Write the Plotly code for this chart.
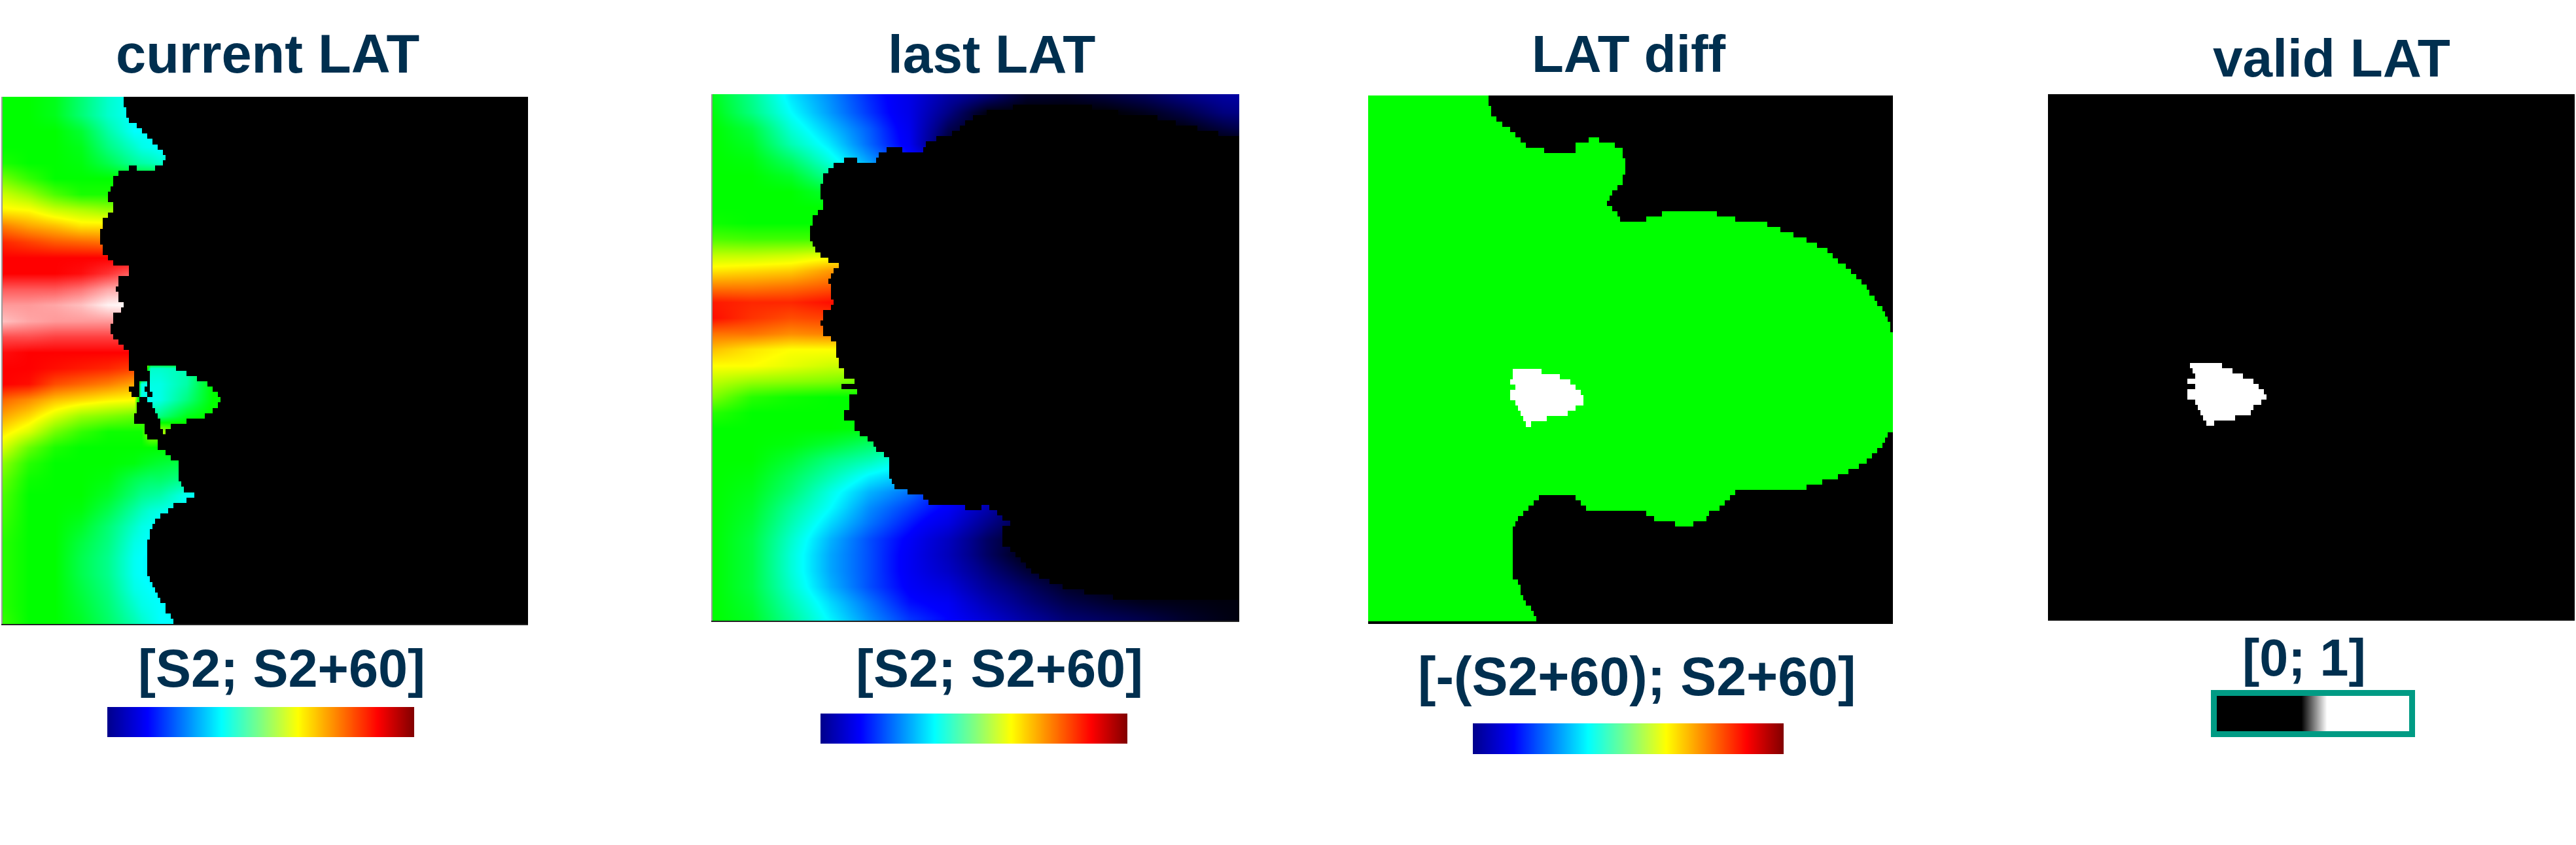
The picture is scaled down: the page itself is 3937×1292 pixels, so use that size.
import plotly.graph_objects as go

W, H = 3937, 1292
NAVY = "#002F4F"
TITLES = ["current LAT", "last LAT", "LAT diff", "valid LAT"]
RANGES = ["[S2; S2+60]", "[S2; S2+60]", "[-(S2+60); S2+60]", "[0; 1]"]

# Colour levels used by the two LAT maps: 0 black ... 7 white
LEVEL_COLORS = ["#000000", "#00008B", "#0000FF", "#00FFFF", "#00FF00", "#FFFF00", "#FF0000", "#FFFFFF"]

# current LAT: level read at every third row (rows 0..99) and these columns (0..100)
CUR_COLS = [0, 5, 10, 15, 20, 25, 26.4, 28.1, 30, 35, 40, 45]
CUR_ROWS = list(range(0, 100, 3))
CUR_LEVELS = [
    [4, 4, 3.9, 3.55, 3.2, 3, 3, 3, 3, 3, 3, 3],
    [4, 4, 3.9, 3.55, 3.2, 3, 3, 3, 3, 3, 3, 3],
    [4, 4, 4, 3.8, 3.35, 3, 3, 3, 3, 3, 3, 3],
    [4, 4, 4, 3.9, 3.5, 3.2, 3.1, 3.05, 3, 3, 3, 3],
    [4.1, 4, 4, 3.95, 3.7, 3.4, 3.35, 3.3, 3.2, 3.2, 3.2, 3.2],
    [4.45, 4.2, 4, 4, 4, 4, 4, 4, 4, 4, 4, 4],
    [4.8, 4.6, 4.3, 4.1, 4.1, 4.1, 4.1, 4.1, 4.1, 4.1, 4.1, 4.1],
    [5.05, 5, 4.8, 4.7, 4.6, 4.6, 4.6, 4.6, 4.6, 4.6, 4.6, 4.6],
    [5.5, 5.35, 5.25, 5.1, 5.1, 5.1, 5.1, 5.1, 5.1, 5.1, 5.1, 5.1],
    [5.85, 5.75, 5.65, 5.6, 5.55, 5.55, 5.55, 5.55, 5.55, 5.55, 5.55, 5.55],
    [6, 6, 6, 6, 6, 6, 6, 6, 6, 6, 6, 6],
    [6, 6, 6, 6.05, 6.2, 6.4, 6.4, 6.4, 6.4, 6.4, 6.4, 6.4],
    [6.35, 6.35, 6.35, 6.45, 6.65, 6.7, 6.7, 6.7, 6.7, 6.7, 6.7, 6.7],
    [6.6, 6.6, 6.65, 6.75, 6.95, 7, 7, 7, 7, 7, 7, 7],
    [6.75, 6.65, 6.6, 6.6, 6.6, 6.6, 6.6, 6.6, 6.6, 6.6, 6.6, 6.6],
    [6.3, 6.3, 6.25, 6.25, 6.25, 6.25, 6.25, 6.25, 6.25, 6.25, 6.25, 6.25],
    [6.05, 6, 6, 6, 6, 6, 6, 6, 6, 6, 6, 6],
    [6, 6, 5.95, 5.9, 5.85, 5.75, 5.75, 3.2, 3.2, 3.3, 3.9, 4],
    [6, 5.95, 5.7, 5.6, 5.5, 5.35, 3.1, 3.1, 3.1, 3.35, 4, 4],
    [5.6, 5.45, 5.25, 5.15, 5.05, 5, 3.1, 3.05, 3.1, 3.5, 4, 4.05],
    [5.35, 5.15, 4.85, 4.6, 4.5, 4.4, 4.4, 3.4, 3.5, 3.9, 4.05, 4.05],
    [5.1, 4.85, 4.45, 4.2, 4.05, 4.05, 4.05, 4.7, 4.7, 4.2, 4.1, 4],
    [4.85, 4.4, 4.1, 4, 4, 4, 4, 4, 4, 4, 4, 4],
    [4.55, 4.15, 4, 4, 4, 3.95, 3.9, 3.85, 3.8, 3.7, 3.6, 3.6],
    [4.4, 4.05, 4, 4, 3.95, 3.7, 3.65, 3.6, 3.6, 3.45, 3.4, 3.4],
    [4.3, 4, 4, 4, 3.85, 3.55, 3.45, 3.4, 3.35, 3.05, 3, 3],
    [4.25, 4, 4, 3.95, 3.7, 3.35, 3.25, 3.15, 3.1, 3, 3, 3],
    [4.2, 4, 4, 3.85, 3.55, 3.2, 3.1, 3.05, 3, 3, 3, 3],
    [4.15, 4, 4, 3.75, 3.5, 3.1, 3.05, 3, 2.95, 2.95, 2.95, 2.95],
    [4.15, 4, 4, 3.7, 3.45, 3.05, 3, 2.95, 2.9, 2.9, 2.9, 2.9],
    [4.15, 4, 4, 3.7, 3.45, 3.05, 3, 2.95, 2.95, 2.95, 2.95, 2.95],
    [4.15, 4, 4, 3.75, 3.5, 3.1, 3.05, 3, 3, 3, 3, 3],
    [4.15, 4, 4, 3.8, 3.55, 3.2, 3.1, 3.05, 3, 3, 3, 3],
    [4.2, 4, 4, 3.85, 3.6, 3.3, 3.2, 3.1, 3, 3, 3, 3],
]

# current LAT: coloured spans per row (start, end, start, end ...), the rest is black
CUR_SPANS = [
    [0, 23], [0, 23], [0, 23.4], [0, 23.5], [0, 24], [0, 25.5], [0, 26.5], [0, 27.5], [0, 28.5], [0, 29.5],
    [0, 30.5], [0, 31.2], [0, 30.5], [0, 24, 25.5, 29], [0, 22], [0, 21], [0, 21], [0, 20.4], [0, 20], [0, 20],
    [0, 21], [0, 21], [0, 20], [0, 19], [0, 19], [0, 18.6], [0, 18.5], [0, 18.5], [0, 19], [0, 19],
    [0, 20], [0, 21], [0, 24], [0, 24], [0, 22], [0, 22], [0, 21.5], [0, 22], [0, 22], [0, 22.8],
    [0, 22.5], [0, 21], [0, 21], [0, 20.5], [0, 20.5], [0, 21], [0, 22], [0, 23], [0, 24], [0, 24],
    [0, 24], [0, 24, 27.5, 33], [0, 25, 28, 35], [0, 25.2, 28, 37], [0, 25.2, 26, 27.5, 28, 39], [0, 24, 26, 27, 28, 40],
    [0, 24.5, 26, 27.5, 28.5, 41], [0, 26, 27.5, 41.5], [0, 25.6, 28.5, 41], [0, 25.6, 29, 40],
    [0, 25, 29.4, 38.7], [0, 25, 29.8, 35], [0, 27, 30, 32], [0, 27, 30.5, 31], [0, 27.7], [0, 29.4], [0, 29.6], [0, 31], [0, 32], [0, 33.3],
    [0, 33.5], [0, 33.5], [0, 33.6], [0, 34], [0, 34.5], [0, 36.6], [0, 34.8], [0, 32.7], [0, 31.5], [0, 30.2],
    [0, 29], [0, 28.5], [0, 28.1], [0, 27.9], [0, 27.4], [0, 27.4], [0, 27.4], [0, 27.4], [0, 27.4], [0, 27.4],
    [0, 27.7], [0, 28], [0, 28.5], [0, 29], [0, 29.6], [0, 30], [0, 31], [0, 31.2], [0, 32], [0, 32.5],
]

# last LAT: level read at every third row and these columns
LAST_COLS = [0, 7.45, 14.9, 22.35, 29.8, 37.25, 44.7, 52.2, 59.6, 67.1, 74.5, 82, 89.4, 96.9, 100]
LAST_ROWS = list(range(0, 100, 3))
LAST_LEVELS = [
    [3.9, 3.45, 2.9, 2.55, 2.15, 1.8, 1.2, 0.8, 0.3, 0.25, 0.4, 0.6, 0.9, 1.15, 1.2],
    [3.95, 3.5, 3, 2.6, 2.2, 1.8, 0.95, 0.1, 0, 0, 0, 0.2, 0.5, 0.9, 0.95],
    [4, 3.75, 3.15, 2.75, 2.35, 1.85, 0.6, 0, 0, 0, 0, 0, 0.1, 0.45, 0.55],
    [4, 3.85, 3.3, 2.9, 2.4, 1.9, 0.3, 0, 0, 0, 0, 0, 0, 0, 0],
    [4, 3.95, 3.6, 3.1, 2.6, 2.1, 1.5, 0, 0, 0, 0, 0, 0, 0, 0],
    [4, 4, 3.85, 3.4, 3.1, 0, 0, 0, 0, 0, 0, 0, 0, 0, 0],
    [4, 4, 4, 3.8, 3.6, 0, 0, 0, 0, 0, 0, 0, 0, 0, 0],
    [4, 4, 4, 4, 4, 0, 0, 0, 0, 0, 0, 0, 0, 0, 0],
    [4.05, 4, 4, 4, 4, 0, 0, 0, 0, 0, 0, 0, 0, 0, 0],
    [4.3, 4.25, 4.25, 4.25, 4.25, 0, 0, 0, 0, 0, 0, 0, 0, 0, 0],
    [4.75, 4.75, 4.8, 4.9, 5, 0, 0, 0, 0, 0, 0, 0, 0, 0, 0],
    [5.1, 5.15, 5.2, 5.4, 5.5, 0, 0, 0, 0, 0, 0, 0, 0, 0, 0],
    [5.5, 5.5, 5.55, 5.65, 5.7, 0, 0, 0, 0, 0, 0, 0, 0, 0, 0],
    [5.9, 5.85, 5.85, 5.95, 6, 0, 0, 0, 0, 0, 0, 0, 0, 0, 0],
    [5.95, 5.8, 5.7, 5.75, 5.8, 0, 0, 0, 0, 0, 0, 0, 0, 0, 0],
    [5.55, 5.55, 5.45, 5.5, 5.5, 0, 0, 0, 0, 0, 0, 0, 0, 0, 0],
    [5.25, 5.1, 5, 5, 5, 0, 0, 0, 0, 0, 0, 0, 0, 0, 0],
    [5, 5, 4.9, 4.8, 4.8, 0, 0, 0, 0, 0, 0, 0, 0, 0, 0],
    [4.75, 4.6, 4.55, 4.5, 4.4, 0, 0, 0, 0, 0, 0, 0, 0, 0, 0],
    [4.5, 4.15, 4.05, 4, 4, 0, 0, 0, 0, 0, 0, 0, 0, 0, 0],
    [4.15, 4, 4, 4, 4, 0, 0, 0, 0, 0, 0, 0, 0, 0, 0],
    [4, 4, 4, 4, 3.95, 3.9, 0, 0, 0, 0, 0, 0, 0, 0, 0],
    [4, 4, 3.95, 3.8, 3.6, 3.4, 0, 0, 0, 0, 0, 0, 0, 0, 0],
    [4, 4, 3.8, 3.5, 3.3, 3, 0, 0, 0, 0, 0, 0, 0, 0, 0],
    [4, 3.95, 3.65, 3.3, 2.95, 2.75, 2.4, 0, 0, 0, 0, 0, 0, 0, 0],
    [4, 3.9, 3.55, 3.1, 2.7, 2.45, 2, 1.6, 0, 0, 0, 0, 0, 0, 0],
    [4, 3.85, 3.4, 3, 2.55, 2.25, 1.95, 1.3, 0.4, 0, 0, 0, 0, 0, 0],
    [4, 3.8, 3.3, 2.85, 2.45, 2.1, 1.75, 1, 0.4, 0, 0, 0, 0, 0, 0],
    [4, 3.75, 3.2, 2.7, 2.3, 1.95, 1.45, 0.7, 0.2, 0, 0, 0, 0, 0, 0],
    [4, 3.75, 3.15, 2.65, 2.3, 1.9, 1.4, 0.7, 0.1, 0, 0, 0, 0, 0, 0],
    [4, 3.75, 3.15, 2.65, 2.3, 1.9, 1.5, 0.9, 0.4, 0.05, 0, 0, 0, 0, 0],
    [4, 3.75, 3.2, 2.7, 2.3, 1.95, 1.7, 1.1, 0.7, 0.3, 0.1, 0, 0, 0, 0],
    [4, 3.8, 3.3, 2.85, 2.45, 2.05, 1.9, 1.35, 0.9, 0.55, 0.35, 0.2, 0.15, 0.1, 0.1],
    [4, 3.85, 3.4, 2.95, 2.55, 2.2, 2, 1.6, 1.15, 0.8, 0.65, 0.5, 0.3, 0.15, 0.1],
]

# last LAT: black spans per row, starting at row 2
LAST_FIRST_ROW = 2
LAST_BLACK = [
    [57, 72], [52, 77], [49.5, 84.5], [48, 88], [47, 92], [45.7, 96],
    [42.4, 100], [40.3, 100], [33.2, 35.9, 39.9, 100], [31.6, 100], [24.8, 27.5, 30.8, 100],
    [22.9, 100], [21.9, 100], [21, 100], [20.8, 100], [20.3, 100], [20.3, 100], [20.3, 100],
    [20.8, 100], [20.8, 100], [20, 100], [19.2, 100], [19.1, 100], [18.6, 100], [18.4, 100], [18.6, 100],
    [19.2, 100], [19.4, 100], [20.4, 100], [21.8, 100], [23.9, 100], [23.1, 100], [22.3, 100], [22, 100],
    [22.3, 100], [22.3, 100], [22.5, 100], [22.9, 100], [22.5, 100], [21, 100], [21, 100], [20.5, 100],
    [21, 100], [21, 100], [22.3, 100], [23.3, 100], [23.7, 100], [23.7, 100], [23.9, 100], [23.9, 100],
    [25.2, 100], [25.2, 100], [27, 100], [24.5, 27.5, 27.5, 100], [27.7, 100], [25.8, 100], [25.8, 100],
    [25.8, 100], [25.2, 100], [25.2, 100], [27, 100], [27, 100], [27.9, 100], [29.5, 100], [30.6, 100],
    [31, 100], [32.4, 100], [33.6, 100], [33.6, 100], [33.6, 100], [33.7, 100], [34.2, 100], [34.5, 100],
    [36.8, 100], [39.9, 100], [41.1, 100],
    [48, 51, 52.5, 100], [53.8, 100], [54.8, 100], [56.4, 100], [55, 100], [55, 100], [55, 100], [55, 100],
    [56.4, 100], [57.4, 100], [58.5, 100], [59.5, 100], [60.7, 100], [61.8, 100], [63.8, 100], [66.3, 100],
    [70.4, 100], [75.8, 100],
]

# LAT diff: green and white spans per row
DIFF_GREEN = [
    [0, 22.8], [0, 22.8], [0, 23.3], [0, 23.6], [0, 24.4], [0, 25.6], [0, 26.8], [0, 28], [0, 29.2, 42, 44],
    [0, 30, 39.5, 47], [0, 33.5, 39.5, 48.3], [0, 48.7], [0, 49.1], [0, 49], [0, 49], [0, 48.7], [0, 48.4],
    [0, 47.5], [0, 46.7], [0, 46], [0, 45.5], [0, 46.7], [0, 47.5, 55.8, 66.6], [0, 48, 53, 69.8], [0, 76],
    [0, 78.5], [0, 81], [0, 83.3], [0, 85.3], [0, 87.3], [0, 88.5], [0, 89.7], [0, 90.9], [0, 92], [0, 93],
    [0, 94], [0, 94.8], [0, 95.6], [0, 96.4], [0, 97.2], [0, 97.8], [0, 98.3], [0, 98.8], [0, 99.4], [0, 99.6],
    [0, 99.8], [0, 100], [0, 100], [0, 100], [0, 100], [0, 100], [0, 100], [0, 100], [0, 100], [0, 100],
    [0, 100], [0, 100], [0, 100], [0, 100], [0, 100], [0, 100], [0, 100], [0, 100], [0, 100], [0, 99.2],
    [0, 98.4], [0, 97.8], [0, 97.2], [0, 96], [0, 95.2], [0, 93.6], [0, 91.6], [0, 89.3], [0, 86.5], [0, 83.3],
    [0, 69.8], [0, 32.4, 39.5, 69], [0, 31.6, 40.7, 68], [0, 30.4, 41.5, 67], [0, 29.6, 53, 65], [0, 28.6, 54.6, 64.6],
    [0, 28, 58.6, 62.2], [0, 27.6], [0, 27.4], [0, 27.4], [0, 27.4], [0, 27.4], [0, 27.4], [0, 27.4], [0, 27.4],
    [0, 27.4], [0, 27.6], [0, 28.4], [0, 28.8], [0, 29.2], [0, 29.6], [0, 30], [0, 30.8], [0, 31.6], [0, 32.2],
]
DIFF_WHITE_FIRST_ROW = 52
DIFF_WHITE = [
    [27.6, 33], [27.6, 36.4], [27, 38.3], [28.2, 39.5], [26.8, 40.3], [27, 41.1],
    [28.2, 41], [28.4, 39.5], [29.2, 38], [29.6, 34], [29.8, 30.8],
]

# valid LAT: white spans per row
VALID_FIRST_ROW = 51
VALID_WHITE = [
    [27.2, 33.2], [27.6, 35], [28.2, 36.9], [26.7, 39.1], [28.2, 40.2], [26.7, 41], [26.7, 41.4],
    [28, 40.6], [28.7, 39.1], [29, 38.4], [29.5, 35.4], [29.8, 31.3],
]

# Colour bars
JET_STOPS = [0, 0.13, 0.37, 0.5, 0.62, 0.88, 1]
JET_COLORS = ["#00008C", "#0000FF", "#00FFFF", "#80FF80", "#FFFF00", "#FF0000", "#800000"]
GREY_STOPS = [0, 0.44, 0.57, 1]
GREY_COLORS = ["#000000", "#000000", "#FFFFFF", "#FFFFFF"]

N_ROWS, N_COLS = 100, 200
cell_x = [(i + 0.5) / 2 for i in range(N_COLS)]
cell_y = [r + 0.5 for r in range(N_ROWS)]
row_centres = lambda rows: [r + 0.5 for r in rows]


def rasterise(rows, first_row=0, value=1, base=None):
    """Turn per-row spans into a grid, with None where a row has no span."""
    grid = base if base is not None else [[None] * N_COLS for _ in range(N_ROWS)]
    for k, spans in enumerate(rows):
        for a, b in zip(spans[0::2], spans[1::2]):
            for c in range(int(round(a * 2)), int(round(b * 2))):
                grid[first_row + k][c] = value
    return grid


def invert(grid):
    return [[None if v is not None else 1 for v in row] for row in grid]


level_scale = [[i / 7, c] for i, c in enumerate(LEVEL_COLORS)]
black_scale = [[0, "#000000"], [1, "#000000"]]
bar_scale = [[s, c] for s, c in zip(JET_STOPS, JET_COLORS)]
grey_scale = [[s, c] for s, c in zip(GREY_STOPS, GREY_COLORS)]

fig = go.Figure()


def add_axes(n, box, y_range=(100, 0), x_range=(0, 100), xline=None, yline=None, mirror=False):
    x0, x1, y0, y1 = box
    xa = dict(domain=[x0 / W, x1 / W], range=list(x_range), visible=True, showgrid=False, zeroline=False,
              showticklabels=False, ticks="", anchor=f"y{n}" if n > 1 else "y",
              showline=xline is not None, linecolor=(xline or ["#000000", 1])[0], linewidth=(xline or ["#000000", 1])[1],
              mirror=mirror)
    ya = dict(domain=[1 - y1 / H, 1 - y0 / H], range=list(y_range), visible=True, showgrid=False, zeroline=False,
              showticklabels=False, ticks="", anchor=f"x{n}" if n > 1 else "x",
              showline=yline is not None, linecolor=(yline or ["#000000", 1])[0], linewidth=(yline or ["#000000", 1])[1],
              mirror=mirror)
    fig.layout[f"xaxis{n}" if n > 1 else "xaxis"] = xa
    fig.layout[f"yaxis{n}" if n > 1 else "yaxis"] = ya
    return (f"x{n}" if n > 1 else "x"), (f"y{n}" if n > 1 else "y")


def heat(xa, ya, x, y, z, scale, zmin, zmax, smooth=False):
    fig.add_trace(go.Heatmap(x=x, y=y, z=z, xaxis=xa, yaxis=ya, colorscale=scale, zmin=zmin, zmax=zmax,
                             showscale=False, zsmooth="best" if smooth else False, hoverinfo="skip"))


# current LAT
xa, ya = add_axes(1, (4, 807, 148, 954), xline=["#222222", 2], yline=["#9A9A9A", 2])
heat(xa, ya, CUR_COLS, row_centres(CUR_ROWS), CUR_LEVELS, level_scale, 0, 7, smooth=True)
heat(xa, ya, cell_x, cell_y, invert(rasterise(CUR_SPANS)), black_scale, 0, 1)

# last LAT
xa, ya = add_axes(2, (1089, 1894, 144, 949), xline=["#222222", 2], yline=["#9A9A9A", 2])
heat(xa, ya, LAST_COLS, row_centres(LAST_ROWS), LAST_LEVELS, level_scale, 0, 7, smooth=True)
heat(xa, ya, cell_x, cell_y, rasterise(LAST_BLACK, LAST_FIRST_ROW), black_scale, 0, 1)

# LAT diff
xa, ya = add_axes(3, (2091, 2893, 146, 950), xline=["#000000", 4])
diff = [[0] * N_COLS for _ in range(N_ROWS)]
rasterise(DIFF_GREEN, 0, 1, diff)
rasterise(DIFF_WHITE, DIFF_WHITE_FIRST_ROW, 2, diff)
heat(xa, ya, cell_x, cell_y, diff, [[0, "#000000"], [0.5, "#00FF00"], [1, "#FFFFFF"]], 0, 2)

# valid LAT
xa, ya = add_axes(4, (3130, 3935, 144, 949))
valid = [[0] * N_COLS for _ in range(N_ROWS)]
rasterise(VALID_WHITE, VALID_FIRST_ROW, 1, valid)
heat(xa, ya, cell_x, cell_y, valid, [[0, "#000000"], [1, "#FFFFFF"]], 0, 1)

# colour bars
bars = [(164, 633, 1081, 1127), (1254, 1723, 1091, 1137), (2251, 2726, 1106, 1153)]
for i, box in enumerate(bars):
    xa, ya = add_axes(5 + i, box, y_range=(0, 1), x_range=(0, 1))
    heat(xa, ya, JET_STOPS, [0, 1], [JET_STOPS, JET_STOPS], bar_scale, 0, 1, smooth=True)
xa, ya = add_axes(8, (3388, 3682, 1064, 1118), y_range=(0, 1), x_range=(0, 1),
                  xline=["#009B84", 9], yline=["#009B84", 9], mirror=True)
heat(xa, ya, GREY_STOPS, [0, 1], [GREY_STOPS, GREY_STOPS], grey_scale, 0, 1, smooth=True)

# texts
title_pos = [(409, 83, 83), (1515, 83, 82), (2489, 83, 80), (3563, 88, 82)]
range_pos = [(430, 1022, 81), (1527, 1022, 81), (2501, 1034, 82.5), (3521, 1005, 79)]
annotations = []
for t, (x, y, s) in zip(TITLES + RANGES, title_pos + range_pos):
    annotations.append(dict(text=f"<b>{t}</b>", x=x / W, y=1 - y / H, xref="paper", yref="paper", showarrow=False,
                            xanchor="center", yanchor="middle",
                            font=dict(family="Liberation Sans", size=s, color=NAVY)))

fig.update_layout(width=W, height=H, margin=dict(l=0, r=0, t=0, b=0), paper_bgcolor="white", plot_bgcolor="white",
                  showlegend=False, annotations=annotations)
fig.write_html("out.html", config={"displayModeBar": False},
               post_script="document.body.style.margin='0';document.body.style.overflow='hidden';")
